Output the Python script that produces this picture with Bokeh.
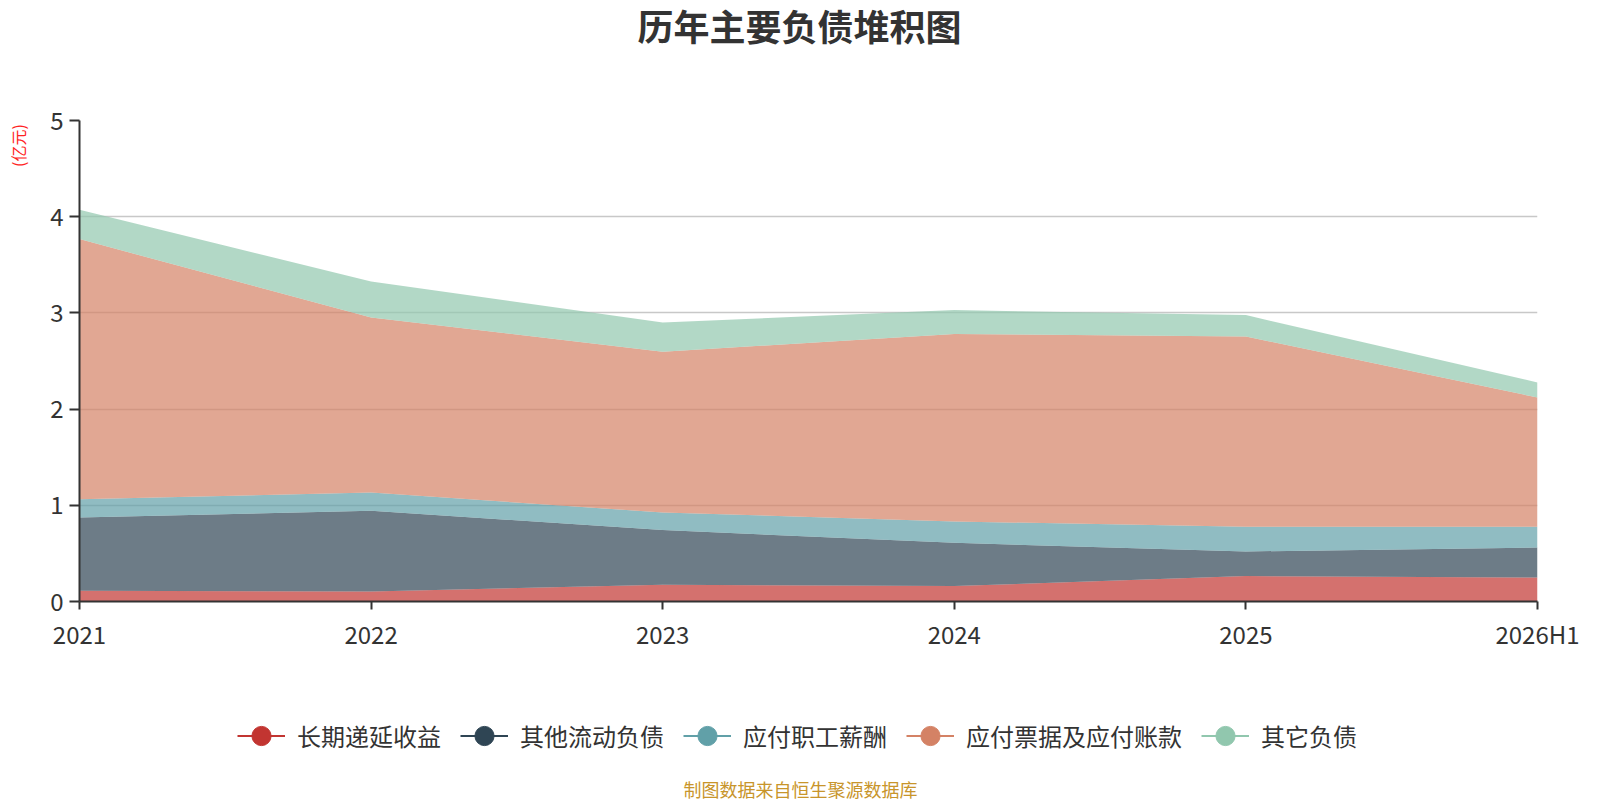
import math
from bokeh.plotting import figure
from bokeh.layouts import column, row
from bokeh.models import ColumnDataSource, Legend, LegendItem, Label, FixedTicker, Range1d
from bokeh.embed import file_html
from bokeh.resources import INLINE

categories = ["2021", "2022", "2023", "2024", "2025", "2026H1"]
deferred_income = [0.111, 0.104, 0.174, 0.160, 0.264, 0.250]
other_current = [0.762, 0.839, 0.568, 0.450, 0.256, 0.311]
payroll = [0.191, 0.190, 0.183, 0.222, 0.256, 0.215]
payables = [2.703, 1.819, 1.671, 1.948, 1.979, 1.345]
others = [0.305, 0.374, 0.304, 0.249, 0.222, 0.156]
series_names = ["长期递延收益", "其他流动负债", "应付职工薪酬", "应付票据及应付账款", "其它负债"]
colors = ["#c23531", "#2f4554", "#61a0a8", "#d48265", "#91c7ae"]
y_ticks = [0, 1, 2, 3, 4, 5]

FONT = "Noto Sans CJK SC"
W, H = 1600, 800
TOP_H, MID_H = 100, 560
BOT_H = H - TOP_H - MID_H
UNIT_W = 40
FRAME_TOP, FRAME_BOTTOM = 120, 601


def blank(width, height):
    f = figure(width=width, height=height, output_backend="svg", toolbar_location=None,
               x_range=Range1d(0, 1), y_range=Range1d(0, 1),
               x_axis_location=None, y_axis_location=None,
               min_border=0, min_border_left=0, min_border_right=0,
               min_border_top=0, min_border_bottom=0)
    f.grid.visible = False
    f.outline_line_color = None
    f.background_fill_color = "white"
    f.border_fill_color = "white"
    return f


# ---- title strip
top = blank(W, TOP_H)
top.add_layout(Label(x=799, y=TOP_H - 24, x_units="screen", y_units="screen",
                     text="历年主要负债堆积图", text_font=FONT, text_font_size="36px",
                     text_font_style="bold", text_color="#333333",
                     text_align="center", text_baseline="middle"))

# ---- unit strip (its frame gets aligned with the main chart frame)
unit = blank(UNIT_W, MID_H)
unit.add_layout(Label(x=17, y=FRAME_BOTTOM - 145, x_units="screen", y_units="screen",
                      text="(亿元)", angle=math.pi / 2, text_font=FONT, text_font_size="16px",
                      text_color="#ff2222", text_align="center", text_baseline="middle"))

# ---- main chart
xs = list(range(len(categories)))
keys = ["s0", "s1", "s2", "s3", "s4"]
src = ColumnDataSource(dict(x=xs, s0=deferred_income, s1=other_current, s2=payroll,
                            s3=payables, s4=others))

p = figure(width=W - UNIT_W, height=MID_H, output_backend="svg", toolbar_location=None,
           x_range=Range1d(0, len(categories) - 1), y_range=Range1d(y_ticks[0], y_ticks[-1]),
           min_border_left=79 - UNIT_W, min_border_right=W - 1537,
           min_border_top=FRAME_TOP - TOP_H,
           min_border_bottom=MID_H - (FRAME_TOP - TOP_H) - (FRAME_BOTTOM - FRAME_TOP))
p.outline_line_color = None
p.background_fill_color = "white"
p.border_fill_color = "white"

p.varea_stack(stackers=keys, x="x", color=colors, fill_alpha=0.7, source=src)

p.xaxis.ticker = FixedTicker(ticks=xs)
p.xaxis.major_label_overrides = {i: c for i, c in enumerate(categories)}
p.yaxis.ticker = FixedTicker(ticks=y_ticks)
for ax in (p.xaxis, p.yaxis):
    ax.axis_line_color = "#333333"
    ax.axis_line_width = 2
    ax.major_tick_line_color = "#333333"
    ax.major_tick_line_width = 2
    ax.major_tick_in = 0
    ax.minor_tick_line_color = None
    ax.major_label_text_font = FONT
    ax.major_label_text_font_size = "24px"
    ax.major_label_text_color = "#333333"
p.xaxis.major_tick_out = 8
p.yaxis.major_tick_out = 10
p.xaxis.major_label_standoff = 6
p.yaxis.major_label_standoff = 6
p.xgrid.visible = False
p.ygrid.grid_line_color = "#c8c8c8"
p.ygrid.grid_line_width = 1.5

# ---- legend + footer strip
bot = blank(W, BOT_H)
items = []
for name, c in zip(series_names, colors):
    proxy = ColumnDataSource(dict(x=[-5], y=[-5]))  # legend-only proxy, outside view
    lr = bot.line("x", "y", source=proxy, line_color=c, line_width=2)
    sr = bot.scatter("x", "y", source=proxy, marker="circle", size=22,
                     fill_color=c, line_color=c)
    items.append(LegendItem(label=name, renderers=[lr, sr]))

legend = Legend(items=items, location=(237, H - 762.5), orientation="horizontal",
                glyph_width=48, glyph_height=55, label_standoff=12, spacing=19,
                padding=0, margin=0, border_line_color=None, background_fill_alpha=0,
                label_text_font=FONT, label_text_font_size="24px", label_text_color="#333333",
                label_text_baseline="middle")
bot.add_layout(legend)
bot.add_layout(Label(x=800, y=H - 788, x_units="screen", y_units="screen",
                     text="制图数据来自恒生聚源数据库", text_font=FONT, text_font_size="18px",
                     text_color="#c8952b", text_align="center", text_baseline="middle"))

layout = column(top, row(unit, p), bot)
open("out.html", "w").write(file_html(layout, INLINE))
